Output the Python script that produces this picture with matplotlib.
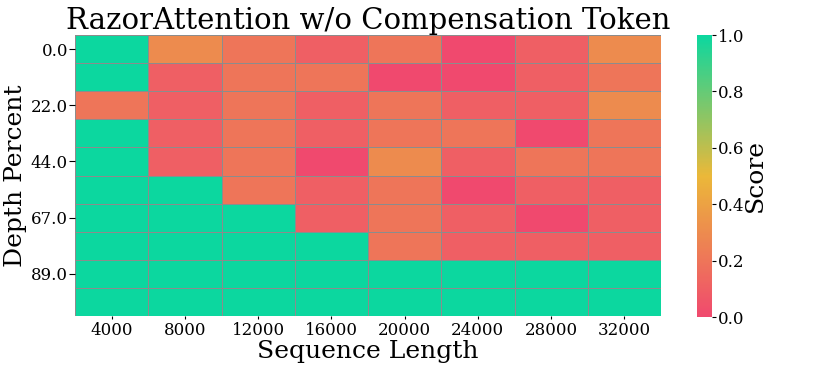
import numpy as np
import matplotlib
matplotlib.use("Agg")
import matplotlib.pyplot as plt
from matplotlib.colors import LinearSegmentedColormap

plt.rcParams['font.family'] = ['DejaVu Serif']

seq_lengths = [4000, 8000, 12000, 16000, 20000, 24000, 28000, 32000]
depth_percents = [0, 11, 22, 33, 44, 56, 67, 78, 89, 100]

scores = [
    [1.0, 0.3, 0.2, 0.1, 0.2, 0.0, 0.1, 0.3],
    [1.0, 0.1, 0.2, 0.2, 0.0, 0.0, 0.1, 0.2],
    [0.2, 0.1, 0.2, 0.1, 0.2, 0.1, 0.1, 0.3],
    [1.0, 0.1, 0.2, 0.1, 0.2, 0.2, 0.0, 0.2],
    [1.0, 0.1, 0.2, 0.0, 0.3, 0.1, 0.2, 0.2],
    [1.0, 1.0, 0.2, 0.1, 0.2, 0.0, 0.1, 0.1],
    [1.0, 1.0, 1.0, 0.1, 0.2, 0.1, 0.0, 0.1],
    [1.0, 1.0, 1.0, 1.0, 0.2, 0.1, 0.1, 0.1],
    [1.0, 1.0, 1.0, 1.0, 1.0, 1.0, 1.0, 1.0],
    [1.0, 1.0, 1.0, 1.0, 1.0, 1.0, 1.0, 1.0],
]

cmap = LinearSegmentedColormap.from_list("custom_cmap", ["#F0496E", "#EBB839", "#0CD79F"])

fig = plt.figure(figsize=(8.14, 3.72), dpi=100)
ax = fig.add_axes([75/814, 1-316/372, (661-75)/814, (316-35)/372])
cax = fig.add_axes([697/814, 1-317/372, 15/814, (317-35)/372])

data = np.array(scores)
mesh = ax.pcolormesh(np.arange(len(seq_lengths)+1), np.arange(len(depth_percents)+1), data,
                     cmap=cmap, vmin=0, vmax=1, edgecolors='#8c8c8c', linewidth=0.5)
ax.set_xlim(0, len(seq_lengths))
ax.set_ylim(len(depth_percents), 0)
for s in ax.spines.values():
    s.set_visible(False)

ax.set_xticks(np.arange(len(seq_lengths)) + 0.5)
ax.set_xticklabels([str(v) for v in seq_lengths], fontsize=12)
yt = np.arange(0, len(depth_percents), 2)
ax.set_yticks(yt + 0.5)
ax.set_yticklabels([f"{float(depth_percents[i]):.1f}" for i in yt], fontsize=12)
ax.tick_params(axis='x', length=2, pad=2)
ax.tick_params(axis='y', length=4, pad=1)

ax.set_title("RazorAttention w/o Compensation Token", fontsize=21, pad=2)
ax.set_xlabel("Sequence Length", fontsize=18, labelpad=1)
ax.set_ylabel("Depth Percent", fontsize=18, labelpad=3)

cb = fig.colorbar(mesh, cax=cax)
cb.outline.set_visible(False)
cb.set_label("Score", fontsize=18, labelpad=0)
cb.ax.tick_params(labelsize=12, length=3, pad=1)
cb.set_ticks([0, 0.2, 0.4, 0.6, 0.8, 1.0])

fig.savefig("out.png", dpi=100)
